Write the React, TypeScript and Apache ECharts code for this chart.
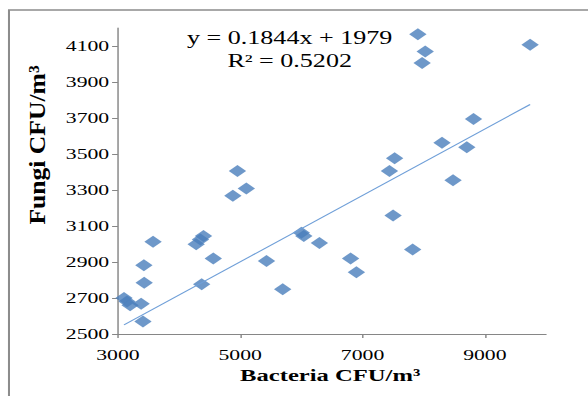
import React, { useEffect, useRef } from "react";
import * as echarts from "echarts";

const bacteria = [3100, 3150, 3200, 3380, 3410, 3430, 3425, 3575, 4280, 4350, 4400, 4370, 4560, 4880, 4955, 5100, 5430, 5695, 6000, 6040, 6295, 6805, 6900, 7440, 7500, 7525, 7820, 7905, 7975, 8025, 8300, 8480, 8705, 8815, 9740];
const fungi = [2700, 2680, 2660, 2668, 2570, 2785, 2882, 3012, 2998, 3025, 3045, 2776, 2920, 3268, 3405, 3308, 2905, 2748, 3062, 3045, 3005, 2920, 2843, 3406, 3158, 3476, 2970, 4165, 4005, 4070, 3563, 3354, 3538, 3694, 4107];
const slope = 0.1844;
const intercept = 1979;
const equationText = "y = 0.1844x + 1979";
const r2Text = "R² = 0.5202";
const xTitle = "Bacteria CFU/m³";
const yTitle = "Fungi CFU/m³";

const SX = 588 / 406;
const W = 406;
const H = 396;
const serif = "'Liberation Serif', 'Times New Roman', serif";

export default function App() {
  const ref = useRef<HTMLDivElement>(null);
  useEffect(() => {
    if (!ref.current) return;
    const chart = echarts.init(ref.current, null, { renderer: "svg" });
    const pts = bacteria.map((b, i) => [b, fungi[i]]);
    const xmin = Math.min(...bacteria);
    const xmax = Math.max(...bacteria);
    const trend = [
      [xmin, slope * xmin + intercept],
      [xmax, slope * xmax + intercept],
    ];
    const axisCommon = {
      axisLine: { show: true, lineStyle: { color: "#868686", width: 1 } },
      axisTick: { show: true, inside: false, length: 4, lineStyle: { color: "#868686" } },
      splitLine: { show: false },
    };
    const fmt = (v: number) => String(v);
    chart.setOption({
      animation: false,
      backgroundColor: "#ffffff",
      grid: { left: 81.4, right: 29, top: 28, bottom: 62, containLabel: false, outerBoundsMode: "none" },
      xAxis: {
        type: "value",
        min: 3000,
        max: 10000,
        interval: 2000,
        ...axisCommon,
        axisLabel: { showMaxLabel: false, margin: 13, fontSize: 15, fontFamily: serif, color: "#000", formatter: fmt },
      },
      yAxis: {
        type: "value",
        min: 2500,
        max: 4200,
        interval: 200,
        ...axisCommon,
        axisLabel: { showMaxLabel: false, margin: 6, fontSize: 15, fontFamily: serif, color: "#000", formatter: fmt },
      },
      series: [
        {
          type: "scatter",
          data: pts,
          symbol: "diamond",
          symbolSize: [12, 12],
          itemStyle: { color: "#4A7EBB" },
        },
        {
          type: "line",
          data: trend,
          symbol: "none",
          lineStyle: { color: "#6f9fd8", width: 1 },
          z: 3,
        },
      ],
      graphic: [
        {
          type: "rect",
          shape: { x: 6.2, y: 10, width: 600, height: 600 },
          style: { fill: "none", stroke: "#8c8c8c", lineWidth: 1.4 },
          silent: true,
        },
        {
          type: "text",
          x: 200,
          y: 38,
          style: { text: equationText, font: `18px ${serif}`, fill: "#000", textAlign: "center", textVerticalAlign: "middle" },
        },
        {
          type: "text",
          x: 200,
          y: 61,
          style: { text: r2Text, font: `18px ${serif}`, fill: "#000", textAlign: "center", textVerticalAlign: "middle" },
        },
        {
          type: "text",
          x: 228,
          y: 375,
          style: { text: xTitle, font: `bold 17px ${serif}`, fill: "#000", textAlign: "center", textVerticalAlign: "middle" },
        },
        {
          type: "text",
          x: 25.5,
          y: 145,
          rotation: Math.PI / 2,
          scaleX: 1.6,
          style: { text: yTitle, font: `bold 16px ${serif}`, fill: "#000", textAlign: "center", textVerticalAlign: "middle" },
        },
      ],
    });
    return () => chart.dispose();
  }, []);
  return (
    <div
      ref={ref}
      style={{
        position: "fixed",
        left: 0,
        top: 0,
        width: W,
        height: H,
        transform: `scaleX(${SX})`,
        transformOrigin: "0 0",
      }}
    />
  );
}
